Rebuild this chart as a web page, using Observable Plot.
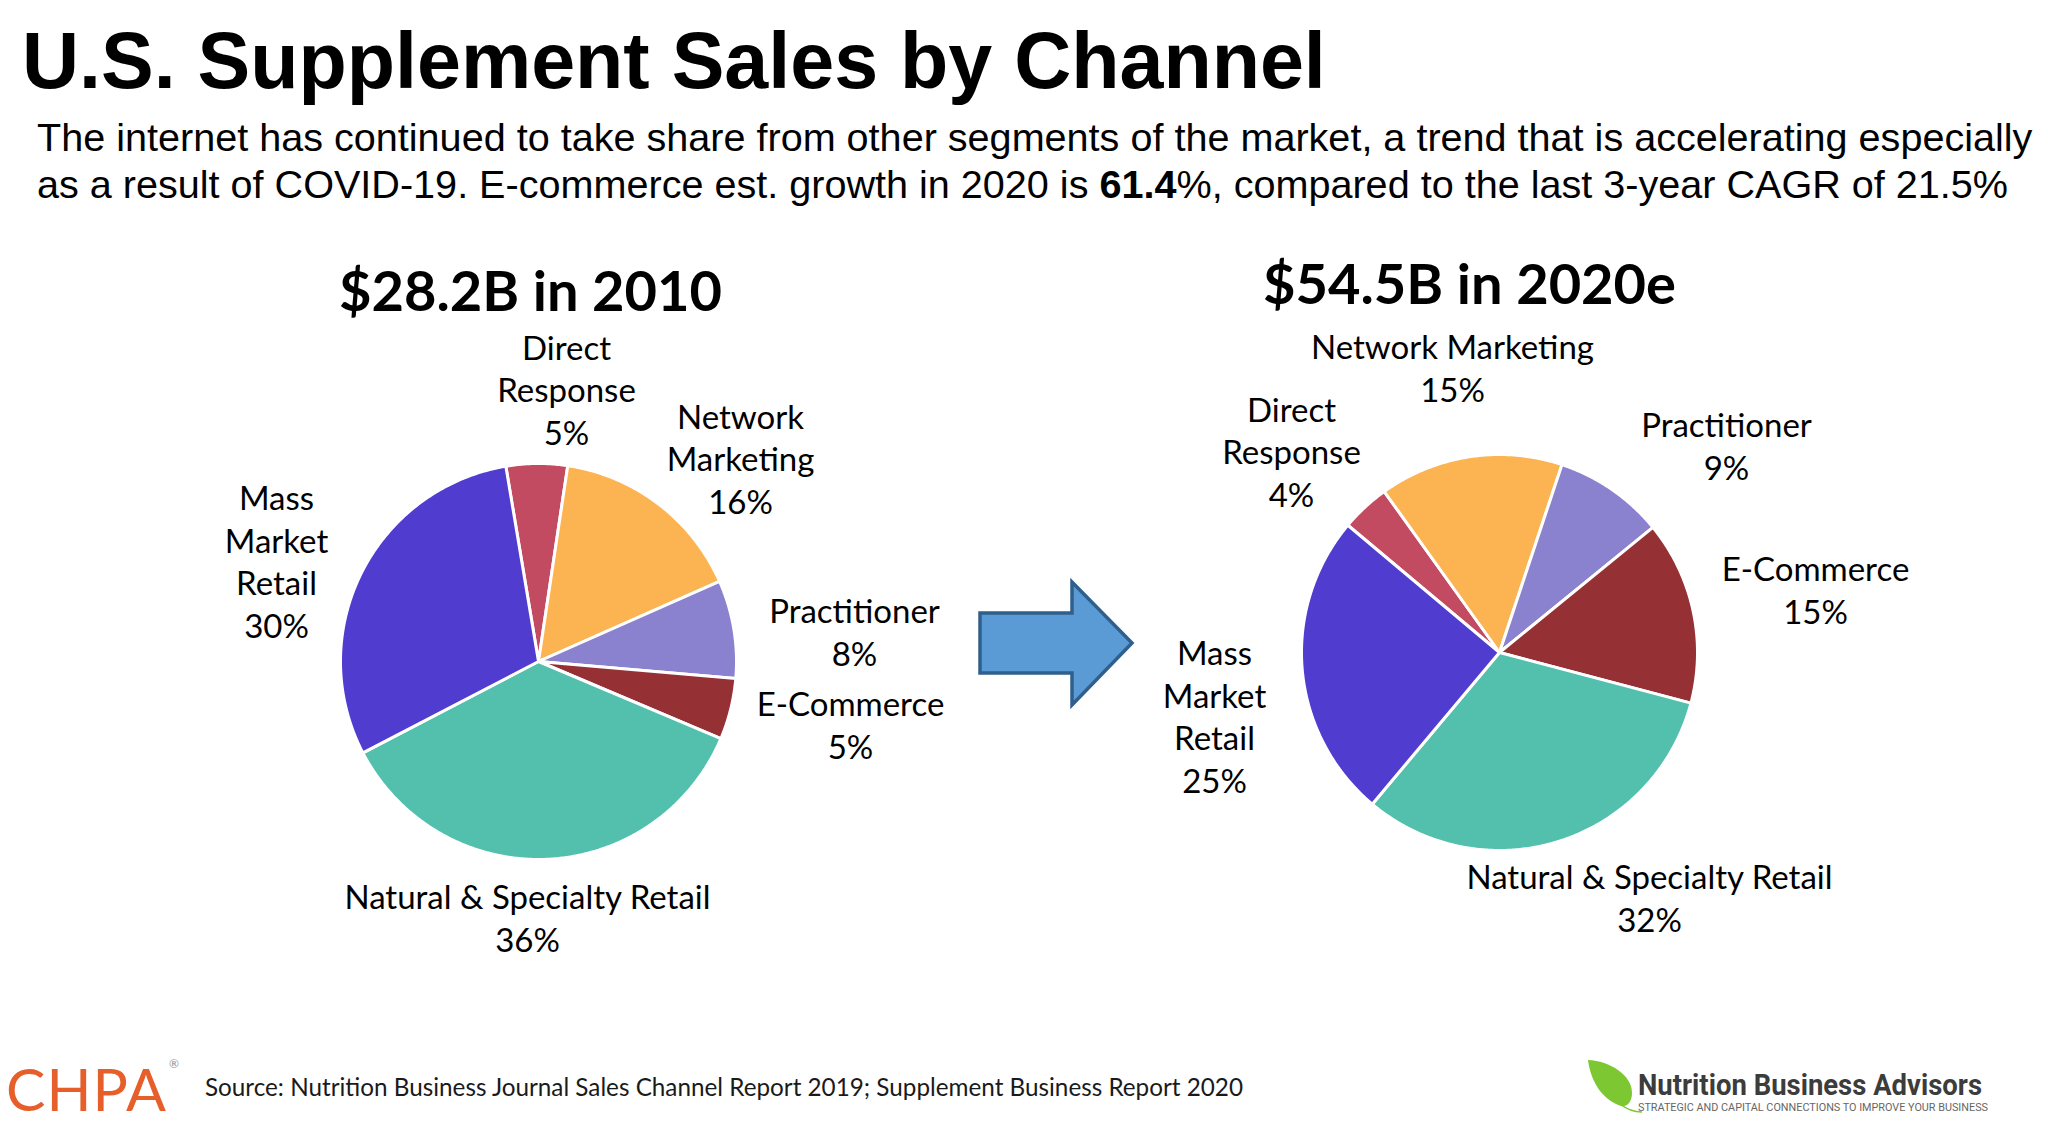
<!DOCTYPE html>
<html>
<head>
<meta charset="utf-8">
<script src="https://cdn.jsdelivr.net/npm/d3@7"></script>
<script src="https://cdn.jsdelivr.net/npm/@observablehq/plot@0.6"></script>
<style>
  html, body { margin: 0; padding: 0; background: #fff; }
  #page { position: relative; width: 2048px; height: 1132px; overflow: hidden; background: #fff; }
  #title { position: absolute; left: 22px; top: 21px; margin: 0; white-space: nowrap;
           font: bold 79px/79px "Liberation Sans", Arial, sans-serif; color: #000; }
  #subtitle { position: absolute; left: 37px; top: 114px; margin: 0; white-space: nowrap;
              font: 39.6px/47px "Liberation Sans", Arial, sans-serif; color: #000; }
  #chart { position: absolute; left: 0; top: 230px; }
  #arrow { position: absolute; left: 0; top: 0; pointer-events: none; }
  #footer { position: absolute; left: 0; top: 1020px; }
</style>
</head>
<body>
<div id="page">
  <h1 id="title">U.S. Supplement Sales by Channel</h1>
  <p id="subtitle">The internet has continued to take share from other segments of the market, a trend that is accelerating especially<br>as a result of COVID-19. E-commerce est. growth in 2020 is <b>61.4</b>%, compared to the last 3-year CAGR of 21.5%</p>
  <div id="chart"></div>
  <svg id="arrow" width="2048" height="1132">
    <polygon points="980,613 1072,613 1072,582 1132,643 1072,705 1072,673 980,673"
             fill="#5B9BD5" stroke="#2F5F8C" stroke-width="3.5" stroke-linejoin="miter"/>
  </svg>
  <svg id="footer" width="2048" height="112" font-family="Lato, 'Open Sans', sans-serif">
    <text x="6" y="91" font-size="59" font-weight="normal" fill="#E65F2B" textLength="160" lengthAdjust="spacing">CHPA</text>
    <text x="169" y="48" font-size="12" fill="#8a8f99">®</text>
    <text x="205" y="76" font-size="25" fill="#1a1a1a" textLength="1038" lengthAdjust="spacingAndGlyphs">Source: Nutrition Business Journal Sales Channel Report 2019; Supplement Business Report 2020</text>
    <path d="M1588,40 C1610,41 1632,55 1632,73 C1632,82 1627,87 1621,86 C1603,80 1591,63 1588,40 Z" fill="#7DC832"/>
    <path d="M1620,84 Q1630,92 1642,92" fill="none" stroke="#7DC832" stroke-width="1.5"/>
    <text x="1638" y="75" font-size="30" font-weight="bold" fill="#3c3c3c" font-family="Roboto, sans-serif" textLength="344" lengthAdjust="spacingAndGlyphs">Nutrition Business Advisors</text>
    <text x="1638" y="91" font-size="10" fill="#666" font-family="Roboto, sans-serif" textLength="350" lengthAdjust="spacingAndGlyphs">STRATEGIC AND CAPITAL CONNECTIONS TO IMPROVE YOUR BUSINESS</text>
  </svg>
</div>
<script>
// ---------- data ----------
const channels = ["Direct Response", "Network Marketing", "Practitioner", "E-Commerce", "Natural & Specialty Retail", "Mass Market Retail"];
const share2010 = [5, 16, 8, 5, 36, 30];
const share2020 = [4, 15, 9, 15, 32, 25];
const pieTitles = ["$28.2B in 2010", "$54.5B in 2020e"];
const labelNames2010 = ["Direct\nResponse", "Network\nMarketing", "Practitioner", "E-Commerce", "Natural & Specialty Retail", "Mass\nMarket\nRetail"];
const labelNames2020 = ["Direct\nResponse", "Network Marketing", "Practitioner", "E-Commerce", "Natural & Specialty Retail", "Mass\nMarket\nRetail"];

// ---------- styles & layout ----------
const colors = ["#C24B62", "#FCB453", "#8A82CE", "#953035", "#52C0AC", "#503CCE"];
const TOP = 230, W = 2048, H = 790;
const layout = [
  {cx: 538, cy: 661, r: 198, start: -9.5, title: [530, 310],
   labels: [[566, 444], [740, 513], [854, 665], [850, 758], [527, 951], [276, 637]]},
  {cx: 1499, cy: 652, r: 198, start: -50, title: [1469, 303],
   labels: [[1291, 506], [1452, 401], [1726, 479], [1815, 623], [1649, 931], [1214, 792]]}
];
const labelSize = 33, labelGap = 42.5, titleSize = 56;

const pies = [
  {values: share2010, names: labelNames2010, title: pieTitles[0], L: layout[0]},
  {values: share2020, names: labelNames2020, title: pieTitles[1], L: layout[1]}
];

// slice outlines derived from the values with d3.pie
const slicePts = [];
const labelRows = [];
const titleRows = [];
pies.forEach((p, pi) => {
  const L = p.L;
  const rad = Math.PI / 180;
  const arcs = d3.pie().sort(null).startAngle(L.start * rad).endAngle((L.start + 360) * rad)(p.values);
  arcs.forEach((a, i) => {
    const id = pi + "|" + channels[i];
    const pt = ang => ({id, channel: channels[i], px: L.cx + L.r * Math.sin(ang), py: L.cy - L.r * Math.cos(ang)});
    slicePts.push({id, channel: channels[i], px: L.cx, py: L.cy});
    const n = Math.max(2, Math.ceil((a.endAngle - a.startAngle) / (0.5 * rad)));
    for (let k = 0; k <= n; k++) slicePts.push(pt(a.startAngle + (a.endAngle - a.startAngle) * k / n));
    slicePts.push({id, channel: channels[i], px: L.cx, py: L.cy});
    labelRows.push({x: L.labels[i][0], y: L.labels[i][1], text: p.names[i] + "\n" + p.values[i] + "%"});
  });
  titleRows.push({x: L.title[0], y: L.title[1], text: p.title});
});

const chart = Plot.plot({
  width: W, height: H,
  margin: 0,
  x: {type: "linear", domain: [0, W], range: [0, W], axis: null},
  y: {type: "linear", domain: [TOP, TOP + H], range: [0, H], axis: null},
  color: {type: "ordinal", domain: channels, range: colors},
  style: {background: "transparent", fontFamily: "Lato, 'Open Sans', sans-serif", overflow: "visible"},
  marks: [
    Plot.line(slicePts, {x: "px", y: "py", z: "id", fill: "channel", stroke: "white", strokeWidth: 3, strokeLinejoin: "round", curve: "linear"}),
    Plot.text(labelRows, {x: "x", y: "y", text: "text", textAnchor: "middle", lineAnchor: "bottom",
      fontSize: labelSize, lineHeight: labelGap / labelSize, fill: "#000", fontFamily: "Lato, 'Open Sans', sans-serif"}),
    Plot.text(titleRows, {x: "x", y: "y", text: "text", textAnchor: "middle", lineAnchor: "bottom",
      fontSize: titleSize, fontWeight: "bold", fill: "#000", fontFamily: "Lato, 'Open Sans', sans-serif"})
  ]
});
document.getElementById("chart").appendChild(chart);
</script>
</body>
</html>
